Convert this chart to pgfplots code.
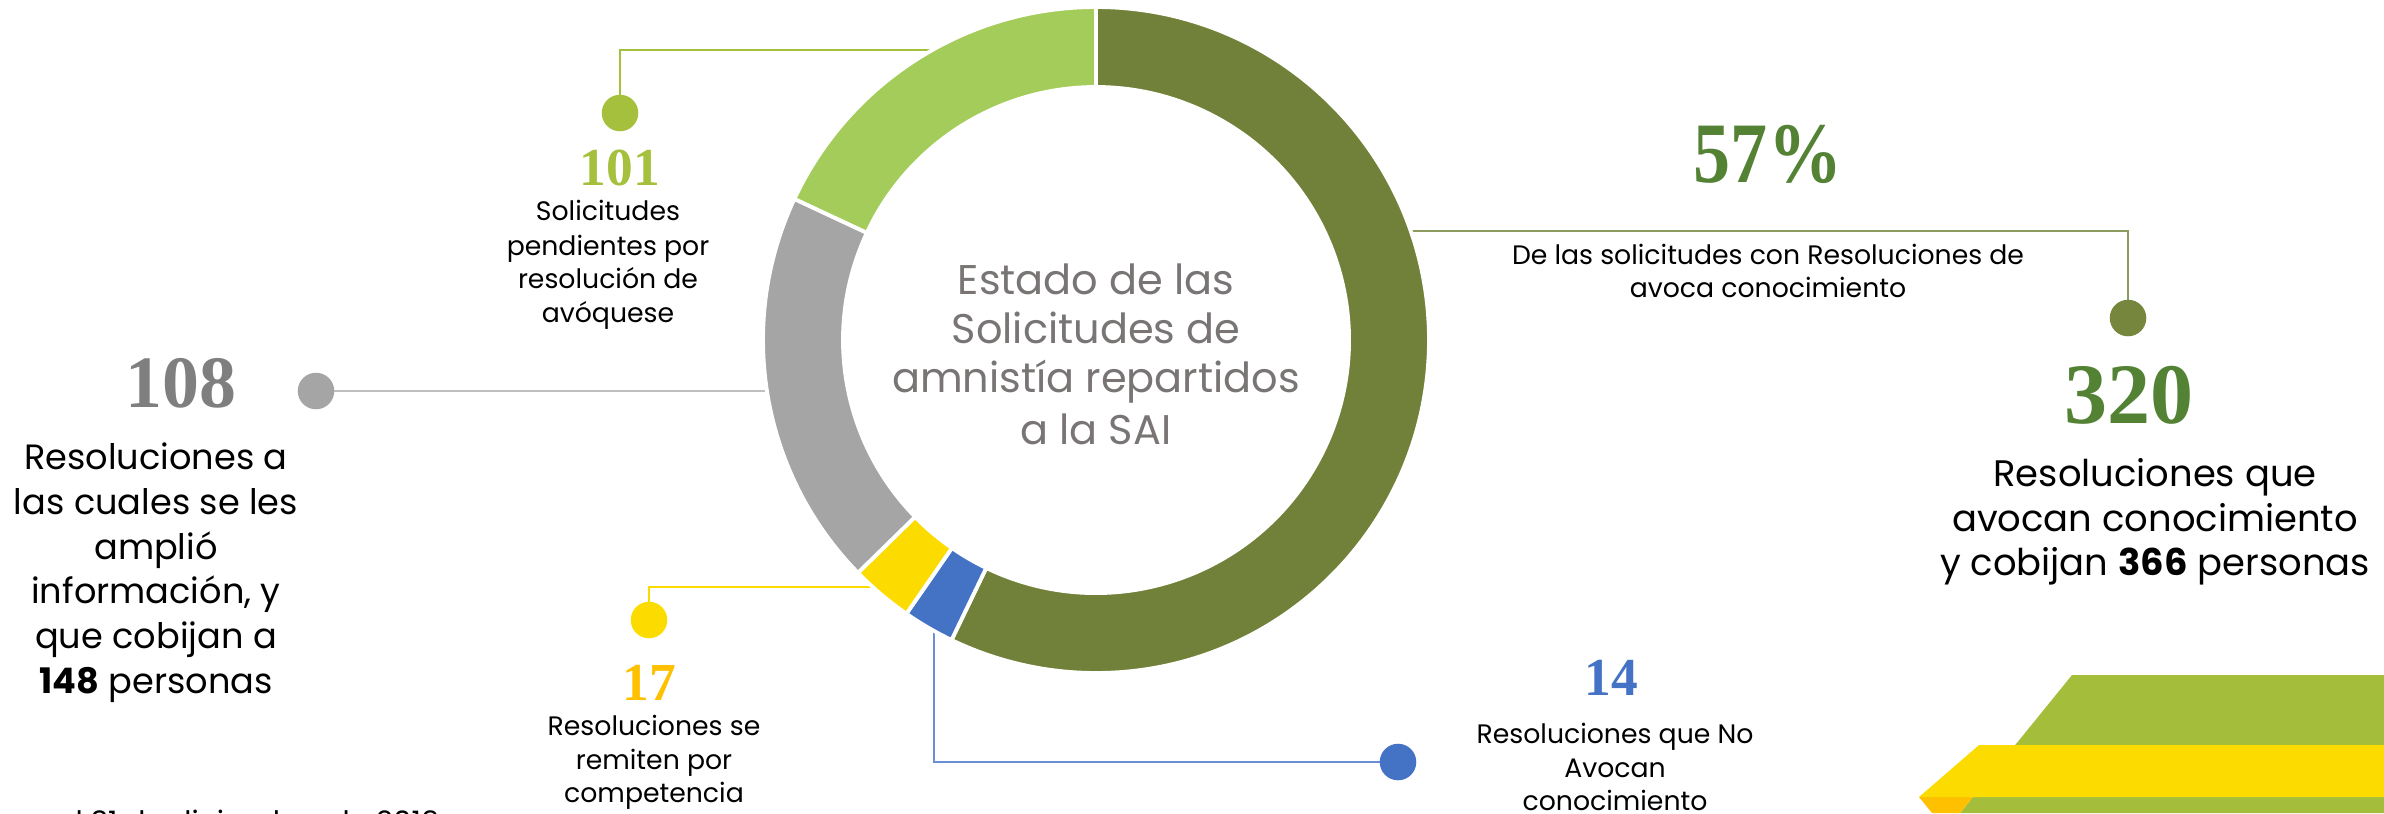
\documentclass[border=0pt]{standalone}
\usepackage{fontspec}
\setmainfont{Poppins}
\newfontfamily\numfont{Liberation Serif}
\usepackage{pgfplots}
\usepackage{pgfplotstable}
\pgfplotsset{compat=1.18}
\usetikzlibrary{calc}

\definecolor{sl0}{HTML}{718139}
\definecolor{sl1}{HTML}{4472C4}
\definecolor{sl2}{HTML}{FCDC00}
\definecolor{sl3}{HTML}{A5A5A5}
\definecolor{sl4}{HTML}{A4CC5A}
\definecolor{lgreen}{HTML}{A4C03C}
\definecolor{dgreen}{HTML}{548235}
\definecolor{olive}{HTML}{76863C}
\definecolor{oliveline}{HTML}{8C9A5E}
\definecolor{numgray}{HTML}{7F7F7F}
\definecolor{grayline}{HTML}{BFBFBF}
\definecolor{orangey}{HTML}{FFC000}
\definecolor{ctext}{HTML}{797575}
\definecolor{decgreen}{HTML}{A4BE3C}
\definecolor{decyellow}{HTML}{FCDC00}
\definecolor{blueline}{HTML}{6A8FD6}

\pgfplotstableread{
slice value
0 320
1 14
2 17
3 108
4 101
}\donutdata

\pgfplotstablegetrowsof{\donutdata}
\pgfmathtruncatemacro\dlast{\pgfplotsretval-1}
\def\dtotal{0}
\pgfplotsforeachungrouped \i in {0,...,\dlast}{%
  \pgfplotstablegetelem{\i}{value}\of\donutdata
  \pgfmathsetmacro\dtotal{\dtotal+\pgfplotsretval}}
\def\dcum{0}
\pgfplotsforeachungrouped \i in {0,...,\dlast}{%
  \pgfplotstablegetelem{\i}{value}\of\donutdata
  \pgfmathsetmacro\dsa{90-(\dcum/\dtotal)*360}%
  \pgfmathsetmacro\dcum{\dcum+\pgfplotsretval}%
  \pgfmathsetmacro\dea{90-(\dcum/\dtotal)*360}%
  \expandafter\xdef\csname dsa\i\endcsname{\dsa}%
  \expandafter\xdef\csname dea\i\endcsname{\dea}}

\tikzset{
  big/.style={font=\fontsize{10}{12}\selectfont, anchor=base, inner sep=0pt},
  bigR/.style={font=\fontsize{10.5}{12}\selectfont, anchor=base, inner sep=0pt},
  med/.style={font=\fontsize{7.6}{9}\selectfont, anchor=base, inner sep=0pt},
  ctr/.style={font=\fontsize{11.8}{14}\selectfont, anchor=base, inner sep=0pt, text=ctext},
  numS/.style={font=\numfont\bfseries\fontsize{15.2}{17}\selectfont, anchor=base, inner sep=0pt},
  numL/.style={font=\numfont\bfseries\fontsize{21}{23}\selectfont, anchor=base, inner sep=0pt},
  numXL/.style={font=\numfont\bfseries\fontsize{24.5}{26}\selectfont, anchor=base, inner sep=0pt},
}

\begin{document}
\begin{tikzpicture}
\begin{axis}[name=ax, at={(0,0)}, anchor=south west,
  width=238.4mm, height=81.3mm, scale only axis, hide axis,
  xmin=0, xmax=2384, ymin=0, ymax=813, y dir=reverse, clip=false]

% connector lines
\addplot[lgreen, line width=0.6pt, mark=none] coordinates {(620,113) (620,50) (960,50)};
\addplot[grayline, line width=0.8pt, mark=none] coordinates {(316,391) (790,391)};
\addplot[sl2, line width=0.6pt, mark=none] coordinates {(649,620) (649,587) (880,587)};
\addplot[blueline, line width=0.6pt, mark=none] coordinates {(934,620) (934,762) (1398,762)};
\addplot[oliveline, line width=0.6pt, mark=none] coordinates {(1390,231) (2128,231) (2128,318)};

% donut
\coordinate (C) at (axis cs:1096,340);
\pgfplotsinvokeforeach{0,...,4}{
  \path[fill=sl#1, draw=white, line width=1.1pt]
    ($(C)+(\csname dsa#1\endcsname:33.3mm)$)
    arc[start angle=\csname dsa#1\endcsname, end angle=\csname dea#1\endcsname, radius=33.3mm]
    -- ($(C)+(\csname dea#1\endcsname:25.3mm)$)
    arc[start angle=\csname dea#1\endcsname, end angle=\csname dsa#1\endcsname, radius=25.3mm]
    -- cycle;
}

% dots
\addplot[only marks, mark=*, mark size=5pt, mark options={draw=lgreen, fill=lgreen}] coordinates {(620,113)};
\addplot[only marks, mark=*, mark size=5pt, mark options={draw=sl3, fill=sl3}] coordinates {(316,391)};
\addplot[only marks, mark=*, mark size=5pt, mark options={draw=sl2, fill=sl2}] coordinates {(649,620)};
\addplot[only marks, mark=*, mark size=5pt, mark options={draw=sl1, fill=sl1}] coordinates {(1398,762)};
\addplot[only marks, mark=*, mark size=5pt, mark options={draw=olive, fill=olive}] coordinates {(2128,318)};

% decoration bottom right
\fill[decgreen] (axis cs:2072,675) -- (axis cs:2384,675) -- (axis cs:2384,813) -- (axis cs:1960,813) -- cycle;
\fill[decyellow] (axis cs:1979,745) -- (axis cs:2384,745) -- (axis cs:2384,797) -- (axis cs:1919,797) -- cycle;
\fill[orangey] (axis cs:1919,797) -- (axis cs:1973,797) -- (axis cs:1960,813) -- (axis cs:1932,813) -- cycle;

% center text
\node[ctr] at (axis cs:1096,294) {Estado de las};
\node[ctr] at (axis cs:1096,343) {Solicitudes de};
\node[ctr] at (axis cs:1096,392) {amnistía repartidos};
\node[ctr] at (axis cs:1096,444) {a la SAI};

% numbers
\node[numS, text=lgreen] at (axis cs:620,185) {101};
\node[numL, text=numgray] at (axis cs:181,407) {108};
\node[numS, text=orangey] at (axis cs:649,700) {17};
\node[numS, text=sl1] at (axis cs:1611,695) {14};
\node[numXL, text=dgreen] at (axis cs:1768,182) {\scalebox{0.86}[1]{57\%}};
\node[numXL, text=dgreen] at (axis cs:2129,423) {320};

% left block
\node[big] at (axis cs:156,469) {Resoluciones a};
\node[big] at (axis cs:156,514) {las cuales se les};
\node[big] at (axis cs:156,559) {amplió};
\node[big] at (axis cs:156,603) {información, y};
\node[big] at (axis cs:156,648) {que cobijan a};
\node[big] at (axis cs:156,693) {\textbf{148} personas};

% right block
\node[bigR] at (axis cs:2155,486) {Resoluciones que};
\node[bigR] at (axis cs:2155,531) {avocan conocimiento};
\node[bigR] at (axis cs:2155,575) {y cobijan \textbf{366} personas};

% 101 block
\node[med] at (axis cs:608,220) {Solicitudes};
\node[med] at (axis cs:608,255) {pendientes por};
\node[med] at (axis cs:608,288) {resolución de};
\node[med] at (axis cs:608,322) {avóquese};

% 17 block
\node[med] at (axis cs:654,735) {Resoluciones se};
\node[med] at (axis cs:654,769) {remiten por};
\node[med] at (axis cs:654,802) {competencia};

% 14 block
\node[med] at (axis cs:1615,743) {Resoluciones que No};
\node[med] at (axis cs:1615,777) {Avocan};
\node[med] at (axis cs:1615,810) {conocimiento};

% 57% block
\node[med] at (axis cs:1768,264) {De las solicitudes con Resoluciones de};
\node[med] at (axis cs:1768,297) {avoca conocimiento};

% cut-off footnote
\node[font=\fontsize{8.4}{9}\selectfont, anchor=base west, inner sep=0pt] at (axis cs:55,832) {al 31 de diciembre de 2019};
\end{axis}
\pgfresetboundingbox
\path[use as bounding box] (ax.south west) rectangle (ax.north east);
\end{tikzpicture}
\end{document}
